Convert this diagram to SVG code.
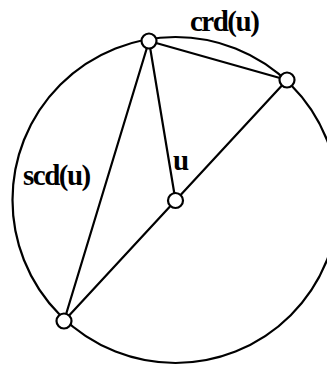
<svg xmlns="http://www.w3.org/2000/svg" width="327" height="365" viewBox="0 0 327 365">
<style>
.edge{stroke:#000;stroke-width:2.2;fill:none;stroke-linecap:round}
.node{fill:#fff;stroke:#000;stroke-width:2.2}
.lbl{font-family:"Liberation Serif","Times New Roman",serif;font-weight:bold;font-size:29px;letter-spacing:-1.5px;fill:#000}
</style>
<rect width="327" height="365" fill="#fff"/>
<g id="connectors">
<circle class="edge" cx="175.5" cy="200" r="163"/>
<line class="edge" x1="149" y1="41" x2="287" y2="80"/>
<line class="edge" x1="149" y1="41" x2="175.5" y2="200.5"/>
<line class="edge" x1="149" y1="41" x2="64" y2="321"/>
<line class="edge" x1="64" y1="321" x2="287" y2="80"/>
</g>
<g id="n-top"><circle class="node" cx="149" cy="41" r="7.5"/></g>
<g id="n-right"><circle class="node" cx="287" cy="80" r="7.5"/></g>
<g id="n-center"><circle class="node" cx="175.5" cy="200.5" r="7.5"/></g>
<g id="n-bottom"><circle class="node" cx="64" cy="321" r="7.5"/></g>
<g id="labels">
<text class="lbl" x="190" y="31">crd(u)</text>
<text class="lbl" x="23" y="185">scd(u)</text>
<text class="lbl" x="173" y="170">u</text>
</g>
</svg>
